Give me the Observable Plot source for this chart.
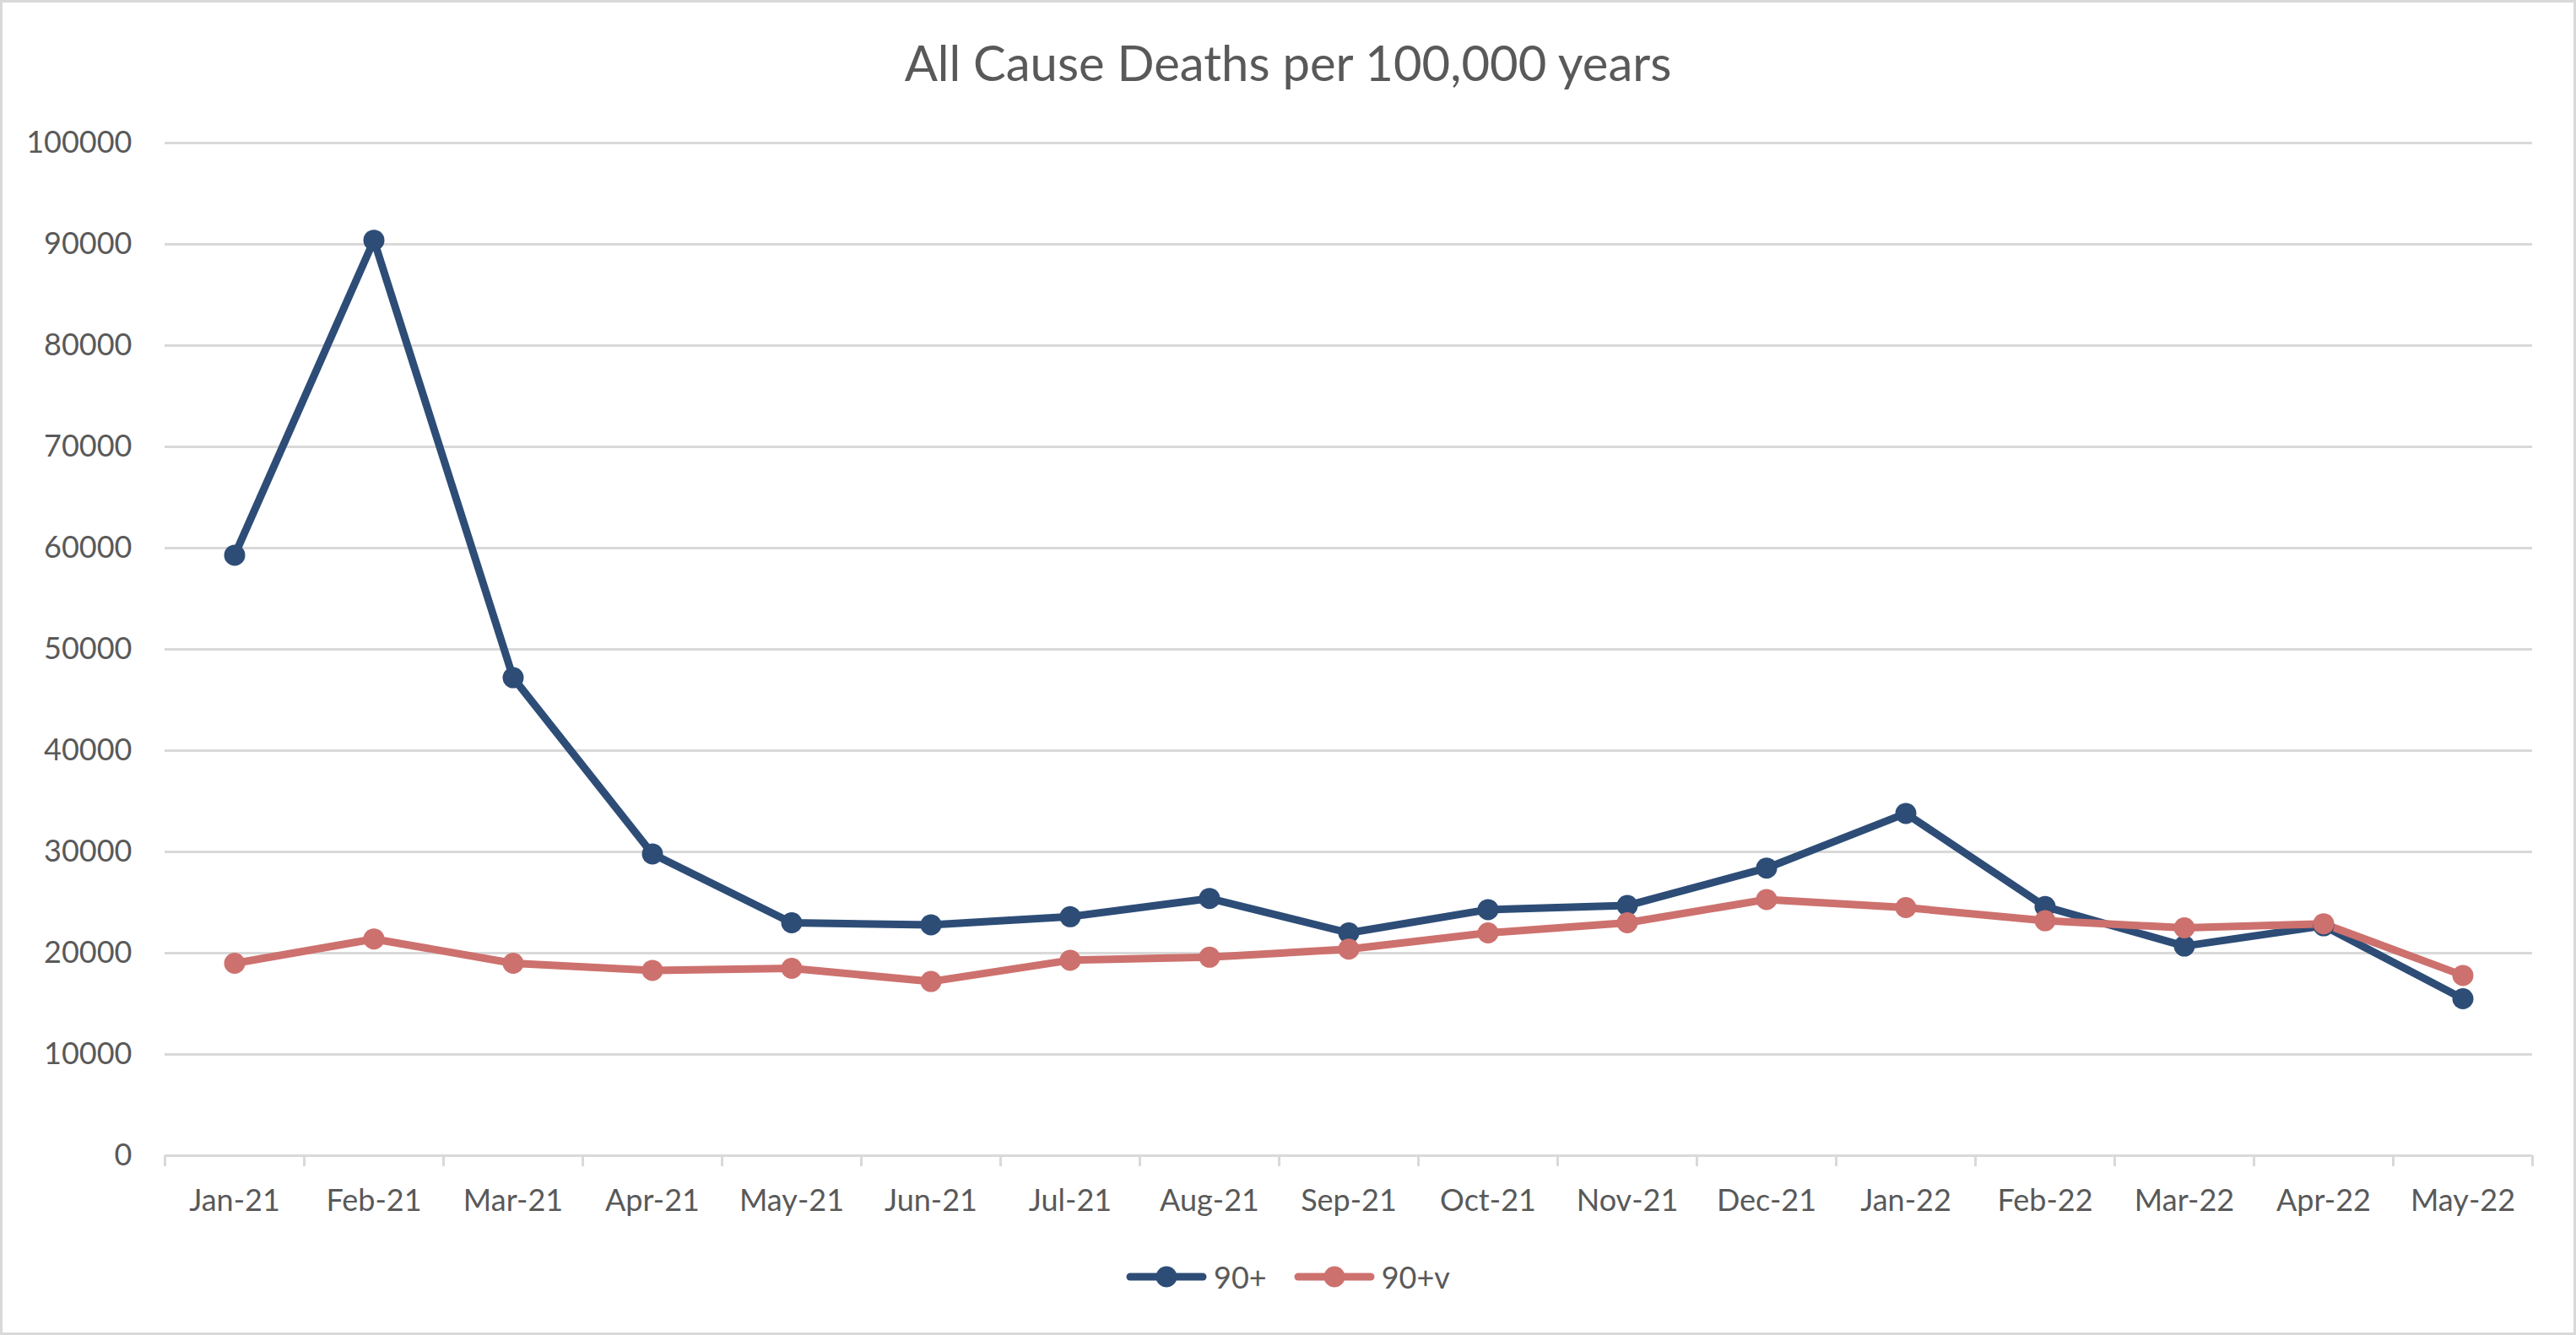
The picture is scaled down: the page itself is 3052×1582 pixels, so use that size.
<!DOCTYPE html>
<html>
<head>
<meta charset="utf-8">
<script src="https://cdn.jsdelivr.net/npm/d3@7"></script>
<script src="https://cdn.jsdelivr.net/npm/@observablehq/plot@0.6"></script>
<style>
  html, body { margin: 0; padding: 0; background: #fff; }
  #frame { position: relative; width: 3052px; height: 1582px; overflow: hidden; font-family: Lato, "Open Sans", sans-serif; }
  #border { position: absolute; left: 0; top: 0; width: 3052px; height: 1582px; box-sizing: border-box; border: 3px solid #d9d9d9; pointer-events: none; }
  #title { position: absolute; left: 0; top: -4px; width: 3052px; height: 156px; line-height: 156px; text-align: center; font-size: 58px; color: #595959; }
  #chart { position: absolute; left: 0; top: 120px; }
  #legend { position: absolute; left: 0; top: 1483px; width: 3052px; height: 60px; display: flex; justify-content: center; align-items: center; font-size: 36px; color: #595959; }
  .item { display: flex; align-items: center; margin: 0 16px; }
  .item svg { margin-right: 8px; }
</style>
</head>
<body>
<div id="frame">
  <div id="title">All Cause Deaths per 100,000 years</div>
  <div id="chart"></div>
  <div id="legend"></div>
  <div id="border"></div>
</div>
<script>
const months = ["Jan-21","Feb-21","Mar-21","Apr-21","May-21","Jun-21","Jul-21","Aug-21","Sep-21","Oct-21","Nov-21","Dec-21","Jan-22","Feb-22","Mar-22","Apr-22","May-22"];
const series90 = [59300, 90400, 47200, 29800, 23000, 22800, 23600, 25400, 22000, 24300, 24700, 28400, 33800, 24600, 20700, 22700, 15500];
const series90v = [19000, 21400, 19000, 18300, 18500, 17200, 19300, 19600, 20400, 22000, 23000, 25300, 24500, 23200, 22500, 22900, 17800];
const seriesNames = ["90+", "90+v"];
const seriesColors = ["#2d4d77", "#cd716e"];
const yTicks = [0, 10000, 20000, 30000, 40000, 50000, 60000, 70000, 80000, 90000, 100000];

const data = months.flatMap((m, i) => [
  {month: m, series: seriesNames[0], value: series90[i]},
  {month: m, series: seriesNames[1], value: series90v[i]}
]);

const W = 3052, H = 1345;
const mL = 195, mR = 52, mT = 49, mB = 96;
const plotH = H - mT - mB;
const bw = (W - mL - mR) / months.length;
const grid = "#d9d9d9";

const chart = Plot.plot({
  width: W,
  height: H,
  marginLeft: mL,
  marginRight: mR,
  marginTop: mT,
  marginBottom: mB,
  x: {type: "band", domain: months, padding: 0, label: null},
  y: {domain: [0, 100000], label: null},
  color: {domain: seriesNames, range: seriesColors},
  style: {fontFamily: "Lato, 'Open Sans', sans-serif", fontSize: "36px", color: "#595959", background: "transparent"},
  marks: [
    Plot.ruleY(yTicks, {y: d => d, stroke: grid, strokeWidth: 3}),
    Plot.ruleX(months, {x: d => d, dx: -bw / 2, stroke: grid, strokeWidth: 3, insetTop: plotH, insetBottom: -13}),
    Plot.ruleX([months[months.length - 1]], {x: d => d, dx: bw / 2, stroke: grid, strokeWidth: 3, insetTop: plotH, insetBottom: -13}),
    Plot.axisY({ticks: yTicks, tickSize: 0, tickPadding: 39, tickFormat: d => String(d), label: null, fill: "#595959"}),
    Plot.axisX({tickSize: 0, tickPadding: 40, label: null, fill: "#595959"}),
    Plot.line(data, {x: "month", y: "value", z: "series", stroke: "series", strokeWidth: 9, strokeLinejoin: "round", strokeLinecap: "round"}),
    Plot.dot(data, {x: "month", y: "value", fill: "series", r: 12.5, stroke: "none"})
  ]
});
document.getElementById("chart").appendChild(chart);

const legend = document.getElementById("legend");
seriesNames.forEach((name, i) => {
  const item = document.createElement("div");
  item.className = "item";
  const ns = "http://www.w3.org/2000/svg";
  const svg = document.createElementNS(ns, "svg");
  svg.setAttribute("width", 96);
  svg.setAttribute("height", 30);
  const line = document.createElementNS(ns, "line");
  line.setAttribute("x1", 5); line.setAttribute("x2", 91);
  line.setAttribute("y1", 15); line.setAttribute("y2", 15);
  line.setAttribute("stroke", seriesColors[i]);
  line.setAttribute("stroke-width", 9);
  line.setAttribute("stroke-linecap", "round");
  const c = document.createElementNS(ns, "circle");
  c.setAttribute("cx", 48); c.setAttribute("cy", 15); c.setAttribute("r", 12.5);
  c.setAttribute("fill", seriesColors[i]);
  svg.appendChild(line); svg.appendChild(c);
  const span = document.createElement("span");
  span.textContent = name;
  item.appendChild(svg); item.appendChild(span);
  legend.appendChild(item);
});
</script>
</body>
</html>
